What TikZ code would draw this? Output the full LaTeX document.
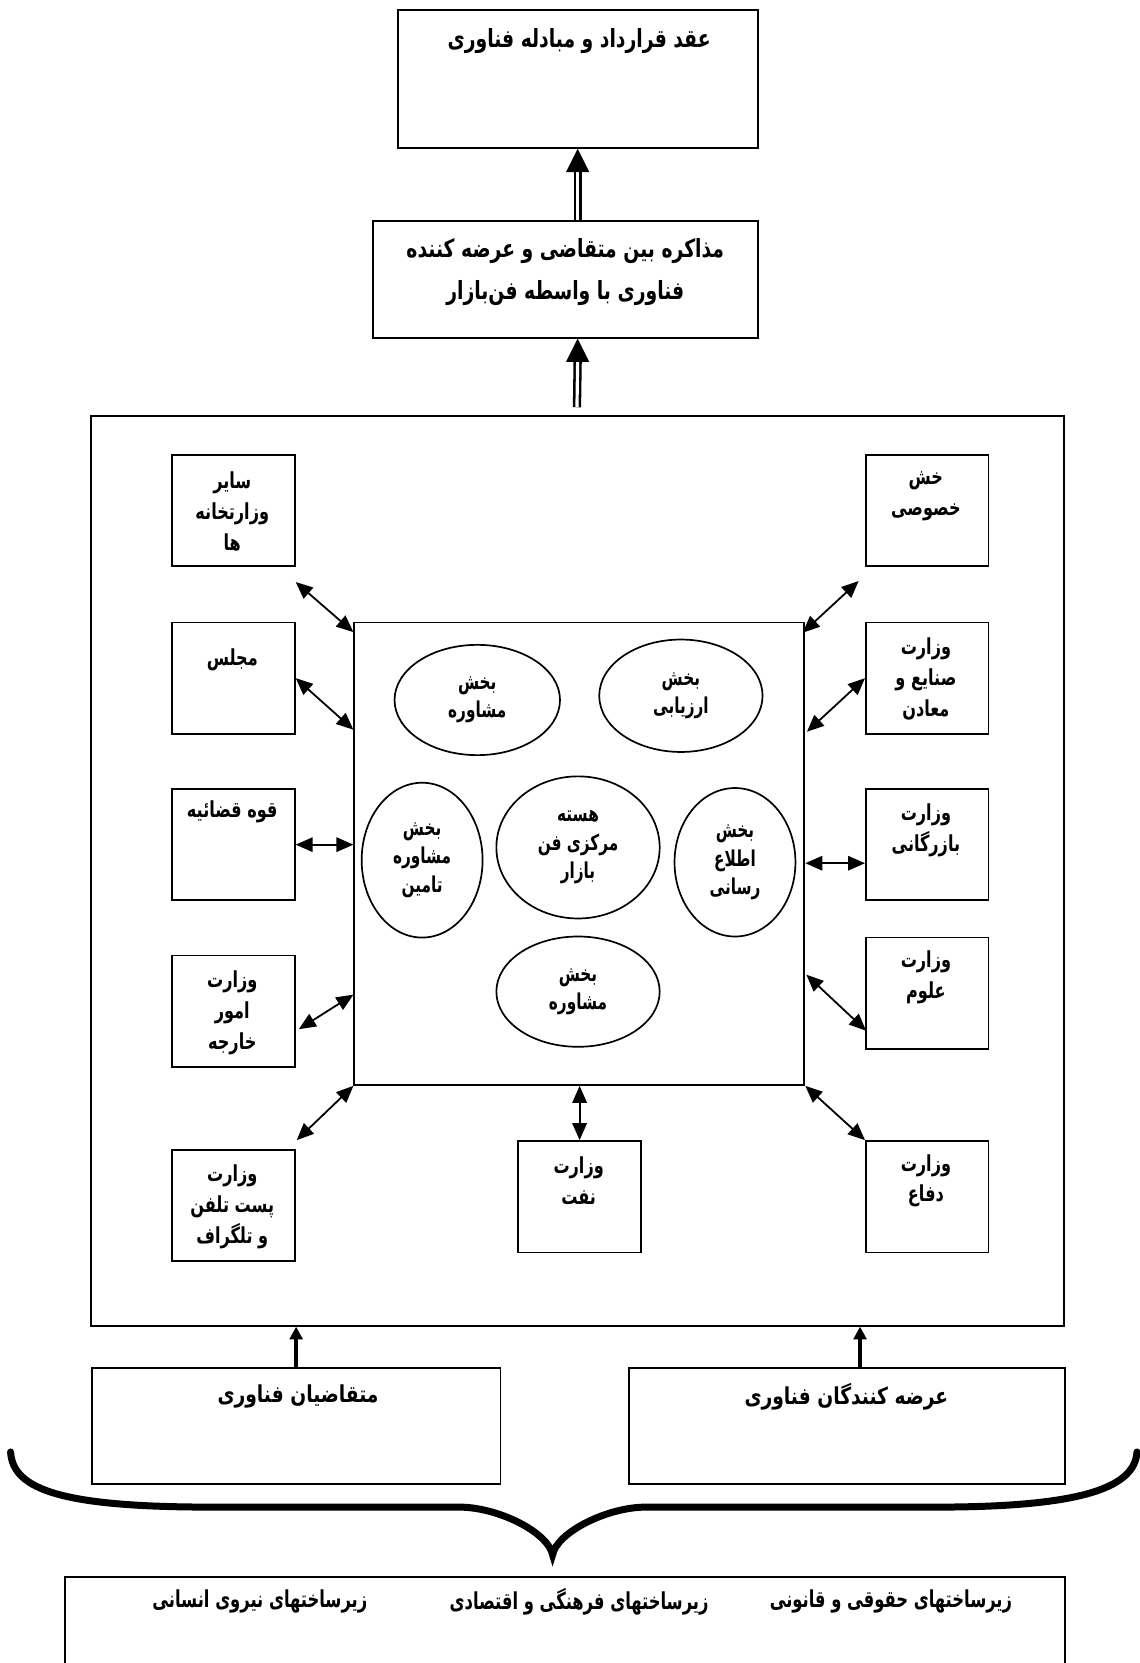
\documentclass[tikz,border=0pt]{standalone}
\usepackage{fontspec}
\newfontfamily\fatop[Script=Arabic, FakeStretch=0.75]{DejaVu Sans}
\newfontfamily\fabox[Script=Arabic, FakeStretch=0.73]{DejaVu Sans}
\newfontfamily\faell[Script=Arabic, FakeStretch=0.7]{DejaVu Sans}
\newfontfamily\famid[Script=Arabic, FakeStretch=0.8]{DejaVu Sans}
\newfontfamily\fainf[Script=Arabic, FakeStretch=0.7]{DejaVu Sans}
\TeXXeTstate=1
\usetikzlibrary{arrows.meta,shapes.geometric,calc}
\newcommand\rtl[1]{\beginR#1\endR}
\begin{document}
\begin{tikzpicture}[x=0.5pt,y=-0.5pt,
  bx/.style={draw, line width=0.9pt, inner sep=0pt, anchor=north west},
  ell/.style={draw, ellipse, line width=0.8pt, inner sep=0pt, align=center, font=\faell\bfseries\fontsize{10.3}{13.4}\selectfont},
  txt/.style={align=center, inner sep=0pt, font=\fabox\bfseries\fontsize{10.4}{14.5}\selectfont},
  bigtxt/.style={align=center, inner sep=0pt, font=\fatop\bfseries\fontsize{11.8}{19.5}\selectfont},
  mtxt/.style={align=center, inner sep=0pt, font=\famid\bfseries\fontsize{11}{14}\selectfont},
  inftxt/.style={align=center, inner sep=0pt, font=\fainf\bfseries\fontsize{11}{14}\selectfont},
  biarrow/.style={{Triangle[length=8pt,width=6.8pt]}-{Triangle[length=8pt,width=6.8pt]}, line width=0.85pt},
  uparrow/.style={-{Triangle[length=6pt,width=6pt]}, line width=1.8pt},
  dshaft/.style={double, double distance=1.5pt, line width=1.2pt},
  bracestyle/.style={line width=3.3pt, line cap=round}]
\useasboundingbox (0,0) rectangle (1074,1568);

% top boxes
\node[bx, minimum width=169.75pt, minimum height=65pt] (n1) at (374,8.5) {};
\node[bigtxt] (t1) at (546,39) {\rtl{عقد قرارداد و مبادله فناوری}};
\node[bx, minimum width=181.5pt, minimum height=55pt] (n2) at (351,207.5) {};
\node[bigtxt] (t2) at (533,256.5) {\rtl{مذاکره بین متقاضی و عرضه کننده}\\\rtl{فناوری با واسطه فن‌بازار}};

% double arrows
\coordinate (a1t) at (n1.south);
\draw[dshaft] (n2.north -| a1t) -- ($(a1t)+(0,21)$);
\fill (a1t) -- ++(-11,22) -- ++(22,0) -- cycle;
\coordinate (a2t) at (n1.south |- n2.south);
\coordinate (a2s) at (544,384);
\draw[dshaft] (a2s) -- ($(a2t)+(0,21)$);
\fill (a2t) -- ++(-11,22) -- ++(22,0) -- cycle;

% big box and inner square
\node[bx, minimum width=458.75pt, minimum height=429pt] (B) at (84.5,391) {};
\node[bx, minimum width=212.15pt, minimum height=218pt] (S) at (333.2,586) {};

% ellipses
\node[ell, minimum width=78pt, minimum height=52pt] (E1) at (450,660) {\rtl{بخش}\\\rtl{مشاوره}};
\node[ell, minimum width=77pt, minimum height=53pt] (E2) at (642,656) {\rtl{بخش}\\\rtl{ارزیابی}};
\node[ell, minimum width=57pt, minimum height=73pt] (E3) at (398,811) {\rtl{بخش}\\\rtl{مشاوره}\\\rtl{تامین}};
\node[ell, minimum width=77pt, minimum height=67pt] (E4) at (545,799) {\rtl{هسته}\\\rtl{مرکزی فن}\\\rtl{بازار}};
\node[ell, minimum width=57pt, minimum height=70pt] (E5) at (693,813) {\rtl{بخش}\\\rtl{اطلاع}\\\rtl{رسانی}};
\node[ell, minimum width=77pt, minimum height=52pt] (E6) at (545,935) {\rtl{بخش}\\\rtl{مشاوره}};

% left boxes
\node[bx, minimum width=58pt, minimum height=52.5pt] (L1) at (161,428) {};
\node[txt] at (219,482.5) {\rtl{سایر}\\\rtl{وزارتخانه}\\\rtl{ها}};
\node[bx, minimum width=58pt, minimum height=52.5pt] (L2) at (161,586) {};
\node[txt] at (219,622) {\rtl{مجلس}};
\node[bx, minimum width=58pt, minimum height=52.5pt] (L3) at (161,743) {};
\node[txt] at (219,765) {\rtl{قوه قضائیه}};
\node[bx, minimum width=58pt, minimum height=52.5pt] (L4) at (161,900) {};
\node[txt] at (219,955) {\rtl{وزارت}\\\rtl{امور}\\\rtl{خارجه}};
\node[bx, minimum width=58pt, minimum height=52.5pt] (L5) at (161,1083) {};
\node[txt] at (219,1138) {\rtl{وزارت}\\\rtl{پست تلفن}\\\rtl{و تلگراف}};

% right boxes
\node[bx, minimum width=57.75pt, minimum height=52.5pt] (R1) at (815.6,428) {};
\node[txt] at (873,468) {\rtl{خش}\\\rtl{خصوصی}};
\node[bx, minimum width=57.75pt, minimum height=52.5pt] (R2) at (815.6,586) {};
\node[txt] at (873,640) {\rtl{وزارت}\\\rtl{صنایع و}\\\rtl{معادن}};
\node[bx, minimum width=57.75pt, minimum height=52.5pt] (R3) at (815.6,743) {};
\node[txt] at (873,782.6) {\rtl{وزارت}\\\rtl{بازرگانی}};
\node[bx, minimum width=57.75pt, minimum height=52.5pt] (R4) at (815.6,883) {};
\node[txt] at (873,921.7) {\rtl{وزارت}\\\rtl{علوم}};
\node[bx, minimum width=57.75pt, minimum height=52.5pt] (R5) at (815.6,1075) {};
\node[txt] at (873,1113.4) {\rtl{وزارت}\\\rtl{دفاع}};
\node[bx, minimum width=58pt, minimum height=52.5pt] (N) at (487.6,1075) {};
\node[txt] at (545.6,1113.4) {\rtl{وزارت}\\\rtl{نفت}};

% bi-directional arrows
\coordinate (r3a) at ($(R3.west)+(0,17.5)$);
\draw[biarrow] ($(L1.south east)+(0,14)$) -- ($(S.north west)+(0,10)$);
\draw[biarrow] (L2.east) -- ($(S.north west)+(0,102)$);
\draw[biarrow] (L3.east) -- (L3.east -| S.west);
\draw[biarrow] ($(L4.east)+(3,17)$) -- ($(S.south west)+(0,-86)$);
\draw[biarrow] ($(L5.north east)+(1,-8)$) -- (S.south west);
\draw[biarrow] (N.north) -- (N.north |- S.south);
\draw[biarrow] (R5.north west) -- (S.south east);
\draw[biarrow] ($(R4.south west)+(1,-18)$) -- ($(S.north east)+(1,333)$);
\draw[biarrow] (r3a) -- (r3a -| S.east);
\draw[biarrow] (R2.west) -- ($(S.north east)+(1.5,104)$);
\draw[biarrow] ($(R1.south west)+(-6,13)$) -- ($(S.north east)+(-2.5,10.6)$);

% bottom boxes
\node[bx, minimum width=192.7pt, minimum height=55pt] (M1) at (85.6,1288.7) {};
\node[mtxt] at (281,1317) {\rtl{متقاضیان فناوری}};
\node[bx, minimum width=205.5pt, minimum height=55pt] (M2) at (592.5,1288.7) {};
\node[mtxt] at (798,1317) {\rtl{عرضه کنندگان فناوری}};
\coordinate (m2a) at ($(M2.north)+(12,0)$);
\draw[uparrow] (M1.north) -- (M1.north |- B.south);
\draw[uparrow] (m2a) -- (m2a |- B.south);

% brace
\draw[bracestyle] (10,1369) .. controls (12,1405) and (60,1421) .. (200,1421)
  -- (433,1421) .. controls (470,1421) and (517,1445) .. (521,1466)
  .. controls (525,1445) and (572,1421) .. (609,1421)
  -- (882,1421) .. controls (1012,1421) and (1070,1405) .. (1072,1369);

% infrastructure box
\node[bx, minimum width=471.2pt, minimum height=100pt] (F) at (60.6,1486) {};
\node[inftxt] at (840,1510) {\rtl{زیرساختهای حقوقی و قانونی}};
\node[inftxt] at (546,1510) {\rtl{زیرساختهای فرهنگی و اقتصادی}};
\node[inftxt] at (245,1510) {\rtl{زیرساختهای نیروی انسانی}};
\end{tikzpicture}
\end{document}
